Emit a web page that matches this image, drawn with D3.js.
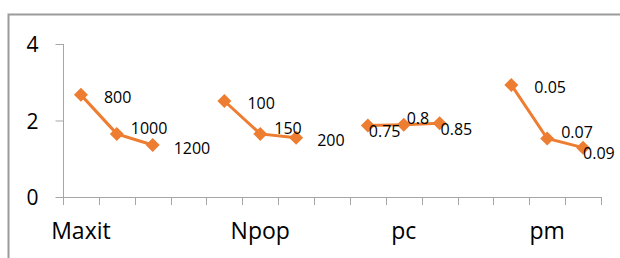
<!DOCTYPE html>
<html>
<head>
<meta charset="utf-8">
<script src="https://cdn.jsdelivr.net/npm/d3@7"></script>
<style>
  body { margin: 0; background: #fff; }
  svg text { font-family: "Open Sans", sans-serif; fill: #000; }
</style>
</head>
<body>
<div id="chart"></div>
<script>
// group names, point labels and values
var groups = ["Maxit", "Npop", "pc", "pm"];
var maxitLabels = ["800", "1000", "1200"];
var npopLabels = ["100", "150", "200"];
var pcLabels = ["0.75", "0.8", "0.85"];
var pmLabels = ["0.05", "0.07", "0.09"];
var maxitValues = [2.67, 1.65, 1.36];
var npopValues = [2.51, 1.65, 1.55];
var pcValues = [1.87, 1.89, 1.93];
var pmValues = [2.93, 1.53, 1.29];
// category axis: 15 slots, text only on some of them
var xTickLabels = ["Maxit", "", "", "", "", "Npop", "", "", "", "pc", "", "", "", "pm", ""];
var yTicks = [0, 2, 4];

var pointLabels = [maxitLabels, npopLabels, pcLabels, pmLabels];
var pointValues = [maxitValues, npopValues, pcValues, pmValues];

var width = 620, height = 258;
var plot = { left: 63, right: 601, top: 44, bottom: 197 };
var orange = "#ED7D31", axisGrey = "#a6a6a6";

var svg = d3.select("#chart").append("svg")
  .attr("width", width)
  .attr("height", height);

// chart frame (cropped at right and bottom)
svg.append("path")
  .attr("d", "M8.5," + height + "V14.5H" + width)
  .attr("fill", "none")
  .attr("stroke", "#9b9b9b")
  .attr("stroke-width", 2);

var x = d3.scaleBand()
  .domain(d3.range(xTickLabels.length))
  .range([plot.left, plot.right]);

var y = d3.scaleLinear()
  .domain([0, 4])
  .range([plot.bottom, plot.top]);

// y axis
var yAxis = svg.append("g")
  .attr("transform", "translate(" + (plot.left + 0.5) + ",0)")
  .call(d3.axisLeft(y).tickValues(yTicks).tickFormat(d3.format("d"))
    .tickSize(8).tickSizeOuter(0).tickPadding(17));
yAxis.select(".domain").attr("stroke", axisGrey).attr("d", "M0," + plot.top + "V" + (plot.bottom + 8));
yAxis.selectAll(".tick line").attr("stroke", axisGrey);
yAxis.selectAll(".tick text")
  .attr("font-size", 21)
  .attr("font-family", "Open Sans")
  .attr("dy", "0.36em");

// x axis: tick marks on slot boundaries
var xAxisG = svg.append("g").attr("class", "x-axis");
xAxisG.append("line")
  .attr("x1", plot.left).attr("x2", plot.right)
  .attr("y1", plot.bottom + 0.5).attr("y2", plot.bottom + 0.5)
  .attr("stroke", axisGrey);
xAxisG.selectAll(".xtick")
  .data(d3.range(xTickLabels.length + 1))
  .enter().append("line")
  .attr("x1", function(i) { return Math.round(plot.left + i * x.step()) + 0.5; })
  .attr("x2", function(i) { return Math.round(plot.left + i * x.step()) + 0.5; })
  .attr("y1", plot.bottom)
  .attr("y2", plot.bottom + 8)
  .attr("stroke", axisGrey);
xAxisG.selectAll(".xlabel")
  .data(xTickLabels)
  .enter().append("text")
  .attr("x", function(d, i) { return x(i) + x.bandwidth() / 2; })
  .attr("y", 239)
  .attr("text-anchor", "middle")
  .attr("font-size", 23)
  .text(function(d) { return d; });

// one line segment per group
var line = d3.line()
  .x(function(d) { return x(d.slot) + x.bandwidth() / 2; })
  .y(function(d) { return y(d.value); });

groups.forEach(function(name, g) {
  var pts = pointValues[g].map(function(v, i) {
    return { slot: g * 4 + i, value: v, label: pointLabels[g][i], index: i };
  });
  var spread = d3.max(pointValues[g]) - d3.min(pointValues[g]);

  svg.append("path")
    .datum(pts)
    .attr("fill", "none")
    .attr("stroke", orange)
    .attr("stroke-width", 3)
    .attr("d", line);

  svg.selectAll(".m" + g)
    .data(pts)
    .enter().append("path")
    .attr("transform", function(d) { return "translate(" + line.x()(d) + "," + line.y()(d) + ")"; })
    .attr("d", "M0,-7L7,0L0,7L-7,0Z")
    .attr("fill", orange);

  // data labels: to the right, nudged off the line; flat groups alternate below/above
  svg.selectAll(".l" + g)
    .data(pts)
    .enter().append("text")
    .attr("font-size", 16)
    .attr("x", function(d) {
      var px = line.x()(d);
      if (spread < 0.2) return px + (d.index === 1 ? 3 : 1);
      var dx = [23, 14, 21][d.index];
      if (px + dx + 32 > width - 4) dx = 0;
      return px + dx;
    })
    .attr("y", function(d) {
      var px = line.x()(d), py = line.y()(d);
      var dy;
      if (spread < 0.2) dy = d.index === 1 ? -6 : 6;
      else {
        dy = [2, -6, 3][d.index];
        if (px + [23, 14, 21][d.index] + 32 > width - 4) dy = 6;
      }
      return py + dy + 5.7;
    })
    .text(function(d) { return d.label; });
});
</script>
</body>
</html>
